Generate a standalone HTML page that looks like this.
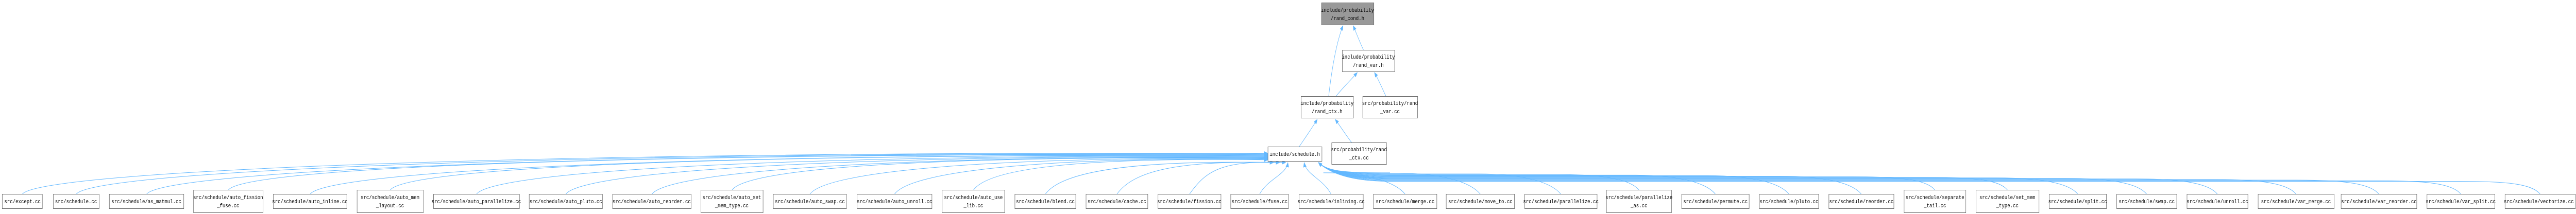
<!DOCTYPE html>
<html><head><meta charset="utf-8"><meta name="viewport" content="width=6301, initial-scale=1"><style>
html,body{margin:0;padding:0;background:#fff;width:100%;height:100%;overflow:hidden}
svg{display:block;position:absolute;left:0;top:0;width:100vw;height:100vh;overflow:hidden}
svg text{font-family:"Liberation Mono",monospace;font-size:11.4px;fill:#000;text-anchor:middle}
.n{fill:#fff;stroke:#666;stroke-width:1}
.e{fill:none;stroke:#63b8ff;stroke-width:1}
</style></head><body>
<svg id="g" viewBox="0 0 6301 416" preserveAspectRatio="none" xmlns="http://www.w3.org/2000/svg">
<defs><marker id="a" markerWidth="10" markerHeight="8" refX="9" refY="4" orient="auto" markerUnits="strokeWidth"><path d="M0,0 L10,4 L0,8 z" fill="#63b8ff"/></marker></defs>
<g id="edges"></g>
<rect x="3232.5" y="5.5" width="128" height="43" fill="#999" stroke="#666"/>
<text x="3296" y="23">include/probability</text><text x="3296" y="39">/rand_cond.h</text>
<rect class="n" x="3283.5" y="97.5" width="128" height="42"/>
<text x="3347" y="114">include/probability</text><text x="3347" y="130">/rand_var.h</text>
<rect class="n" x="3182.5" y="187.5" width="128" height="42"/>
<text x="3246" y="204">include/probability</text><text x="3246" y="220">/rand_ctx.h</text>
<rect class="n" x="3333.5" y="187.5" width="134" height="42"/>
<text x="3400" y="204">src/probability/rand</text><text x="3400" y="220">_var.cc</text>
<rect class="n" x="3101.5" y="285.5" width="132" height="28"/>
<text x="3167" y="303">include/schedule.h</text>
<rect class="n" x="3257.5" y="277.5" width="134" height="42"/>
<text x="3324" y="294">src/probability/rand</text><text x="3324" y="310">_ctx.cc</text>
<g id="nodes">
<rect class="n" x="5.5" y="377.5" width="98" height="28"/><text x="55" y="395">src/except.cc</text>
<rect class="n" x="130.5" y="377.5" width="112" height="28"/><text x="186" y="395">src/schedule.cc</text>
<rect class="n" x="267.5" y="377.5" width="182" height="28"/><text x="358" y="395">src/schedule/as_matmul.cc</text>
<rect class="n" x="473.5" y="369.5" width="170" height="44"/><text x="558" y="387">src/schedule/auto_fission</text><text x="558" y="403">_fuse.cc</text>
<rect class="n" x="668.5" y="377.5" width="180" height="28"/><text x="758" y="395">src/schedule/auto_inline.cc</text>
<rect class="n" x="873.5" y="369.5" width="162" height="44"/><text x="954" y="387">src/schedule/auto_mem</text><text x="954" y="403">_layout.cc</text>
<rect class="n" x="1060.5" y="377.5" width="210" height="28"/><text x="1165" y="395">src/schedule/auto_parallelize.cc</text>
<rect class="n" x="1294.5" y="377.5" width="179" height="28"/><text x="1384" y="395">src/schedule/auto_pluto.cc</text>
<rect class="n" x="1498.5" y="377.5" width="192" height="28"/><text x="1594" y="395">src/schedule/auto_reorder.cc</text>
<rect class="n" x="1714.5" y="369.5" width="152" height="44"/><text x="1790" y="387">src/schedule/auto_set</text><text x="1790" y="403">_mem_type.cc</text>
<rect class="n" x="1891.5" y="377.5" width="179" height="28"/><text x="1981" y="395">src/schedule/auto_swap.cc</text>
<rect class="n" x="2096.5" y="377.5" width="183" height="28"/><text x="2188" y="395">src/schedule/auto_unroll.cc</text>
<rect class="n" x="2304.5" y="369.5" width="153" height="44"/><text x="2381" y="387">src/schedule/auto_use</text><text x="2381" y="403">_lib.cc</text>
<rect class="n" x="2482.5" y="377.5" width="149" height="28"/><text x="2557" y="395">src/schedule/blend.cc</text>
<rect class="n" x="2656.5" y="377.5" width="151" height="28"/><text x="2732" y="395">src/schedule/cache.cc</text>
<rect class="n" x="2832.5" y="377.5" width="154" height="28"/><text x="2909" y="395">src/schedule/fission.cc</text>
<rect class="n" x="3010.5" y="377.5" width="141" height="28"/><text x="3081" y="395">src/schedule/fuse.cc</text>
<rect class="n" x="3177.5" y="377.5" width="157" height="28"/><text x="3256" y="395">src/schedule/inlining.cc</text>
<rect class="n" x="3359.5" y="377.5" width="155" height="28"/><text x="3437" y="395">src/schedule/merge.cc</text>
<rect class="n" x="3537.5" y="377.5" width="167" height="28"/><text x="3621" y="395">src/schedule/move_to.cc</text>
<rect class="n" x="3729.5" y="377.5" width="177" height="28"/><text x="3818" y="395">src/schedule/parallelize.cc</text>
<rect class="n" x="3929.5" y="369.5" width="159" height="44"/><text x="4009" y="387">src/schedule/parallelize</text><text x="4009" y="403">_as.cc</text>
<rect class="n" x="4113.5" y="377.5" width="165" height="28"/><text x="4196" y="395">src/schedule/permute.cc</text>
<rect class="n" x="4303.5" y="377.5" width="145" height="28"/><text x="4376" y="395">src/schedule/pluto.cc</text>
<rect class="n" x="4473.5" y="377.5" width="159" height="28"/><text x="4553" y="395">src/schedule/reorder.cc</text>
<rect class="n" x="4657.5" y="369.5" width="151" height="44"/><text x="4733" y="387">src/schedule/separate</text><text x="4733" y="403">_tail.cc</text>
<rect class="n" x="4833.5" y="369.5" width="154" height="44"/><text x="4910" y="387">src/schedule/set_mem</text><text x="4910" y="403">_type.cc</text>
<rect class="n" x="5012.5" y="377.5" width="140" height="28"/><text x="5082" y="395">src/schedule/split.cc</text>
<rect class="n" x="5177.5" y="377.5" width="147" height="28"/><text x="5251" y="395">src/schedule/swap.cc</text>
<rect class="n" x="5349.5" y="377.5" width="149" height="28"/><text x="5424" y="395">src/schedule/unroll.cc</text>
<rect class="n" x="5523.5" y="377.5" width="186" height="28"/><text x="5616" y="395">src/schedule/var_merge.cc</text>
<rect class="n" x="5726.5" y="377.5" width="185" height="28"/><text x="5819" y="395">src/schedule/var_reorder.cc</text>
<rect class="n" x="5936.5" y="377.5" width="166" height="28"/><text x="6019" y="395">src/schedule/var_split.cc</text>
<rect class="n" x="6127.5" y="377.5" width="172" height="28"/><text x="6210" y="395">src/schedule/vectorize.cc</text>
</g>
</svg>
<script>
(function(){
var ns="http://www.w3.org/2000/svg",G=document.getElementById("edges");
function p(d){var e=document.createElementNS(ns,"path");e.setAttribute("d",d);e.setAttribute("class","e");e.setAttribute("marker-end","url(#a)");G.appendChild(e);}
p("M3335,97 C3325,80 3318,65 3310,50");
p("M3250,187 C3258,130 3270,80 3285,50");
p("M3268,187 C3285,170 3305,155 3320,141");
p("M3390,187 C3380,170 3372,155 3362,141");
p("M3178,285 C3195,265 3210,248 3222,232");
p("M3306,277 C3290,260 3278,245 3266,232");
var rs=document.querySelectorAll("#nodes rect"),left=[];
for(var i=0;i<rs.length;i++){var r=rs[i],x=+r.getAttribute("x"),w=+r.getAttribute("width"),y=+r.getAttribute("y"),cx=x+w/2;
 if(cx<2950){left.push([cx,y]);}
 else if(cx<3200){p("M"+cx+","+y+" C"+(cx+20)+","+(y-30)+" "+(3130+(cx-3000)*0.2)+",340 "+(3130+(cx-3000)*0.25)+",316");}
 else if(cx<3300){p("M"+cx+","+y+" C"+(cx-20)+","+(y-30)+" 3195,340 3190,316");}
 else{var k=(cx-3300)/3000,ly=335+k*18;
  p("M"+cx+","+y+" C"+(cx-20)+","+(y-20)+" "+(cx-80)+","+ly+" "+(cx-200)+","+ly+" L3400,"+ly+" C3300,"+ly+" 3250,335 3225,316");}
}
var n=left.length;
for(var j=0;j<n;j++){var c=left[j],t=j/(n-1),ey=298+t*16,ex=3101;
 if(j>=n-3){ex=3115+(j-(n-3))*15;ey=316;}
 p("M"+c[0]+","+c[1]+" C"+(c[0]+40)+","+(c[1]-45)+" "+(c[0]+(3101-c[0])*0.4)+","+(ey-5)+" "+ex+","+ey);}
})();
</script>
</body></html>
